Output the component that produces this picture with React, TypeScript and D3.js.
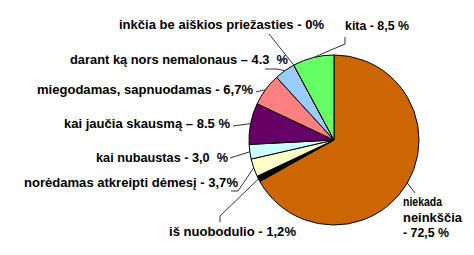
import React from "react";
import * as d3 from "d3";

const categories = [
  "niekada neinkščia",
  "iš nuobodulio",
  "norėdamas atkreipti dėmesį",
  "kai nubaustas",
  "kai jaučia skausmą",
  "miegodamas, sapnuodamas",
  "darant ką nors nemalonaus",
  "inkčia be aiškios priežasties",
  "kita",
];
const values = [72.5, 1.2, 3.7, 3.0, 8.5, 6.7, 4.3, 0, 8.5];
const valueLabels = ["72,5 %", "1,2%", "3,7%", "3,0  %", "8.5 %", "6,7%", "4.3  %", "0%", "8,5 %"];
const separators = ["-", "-", "-", "-", "–", "-", "–", "-", "-"];
const colors = ["#CC6600", "#000000", "#FFFFCC", "#CCFFFF", "#660066", "#FF8080", "#99CCFF", "#FFFFFF", "#66FF66"];

// label layout (positions chosen by hand in the original chart)
const labelLayout = [
  { x: 403, y: 206, widths: [39, 59, 46], leader: [[415, 193]] },
  { x: 169, y: 236, widths: [127], leader: [[220, 222], [220, 216]] },
  { x: 24, y: 187, widths: [214], leader: [[231, 191], [238, 191]] },
  { x: 96, y: 162, widths: [132], leader: [[230, 158]] },
  { x: 64, y: 128, widths: [166], leader: [[233, 126]] },
  { x: 37, y: 94, widths: [216], leader: [[256, 92]] },
  { x: 70, y: 64, widths: [218], leader: [[265, 69], [277, 69]] },
  { x: 119, y: 28.5, widths: [205], leader: [[269, 34]] },
  { x: 345, y: 29.5, widths: [64], leader: [[345, 37], [345, 44]] },
];

const W = 474;
const H = 255;
const cx = 334;
const cy = 140;
const R = 85;

export default function App() {
  const pie = d3.pie<number>().sort(null).value((d) => d)(values);
  const arc = d3.arc<d3.PieArcDatum<number>>().innerRadius(0).outerRadius(R);

  const labelLines = (i: number) => {
    if (i === 0) return ["niekada", "neinkščia", `${separators[0]} ${valueLabels[0]}`];
    return [`${categories[i]} ${separators[i]} ${valueLabels[i]}`];
  };

  return (
    <svg
      width={W}
      height={H}
      style={{ position: "absolute", left: 0, top: 0, background: "#fff" }}
    >
      <rect x={0} y={0} width={W} height={H} fill="#fff" />
      <g transform={`translate(${cx},${cy})`}>
        {pie.map((p, i) => (
          <path key={i} d={arc(p) || ""} fill={colors[i]} stroke="#000" strokeWidth={1} />
        ))}
      </g>
      {pie.map((p, i) => {
        const a = (p.startAngle + p.endAngle) / 2;
        const ex = cx + R * Math.sin(a);
        const ey = cy - R * Math.cos(a);
        const pts = [...labelLayout[i].leader, [ex, ey]];
        const line = d3.line()(pts as [number, number][]);
        return <path key={"l" + i} d={line || ""} fill="none" stroke="#333" strokeWidth={1} />;
      })}
      {labelLayout.map((lay, i) =>
        labelLines(i).map((t, j) => (
          <text
            key={`t${i}-${j}`}
            x={lay.x}
            y={lay.y + j * 15.5}
            textLength={lay.widths[j]}
            lengthAdjust="spacingAndGlyphs"
            fontFamily="'Liberation Sans', Arial, sans-serif"
            fontWeight="bold"
            fontSize={13}
            fill="#000"
            style={{ whiteSpace: "pre" }}
          >
            {t}
          </text>
        ))
      )}
    </svg>
  );
}
